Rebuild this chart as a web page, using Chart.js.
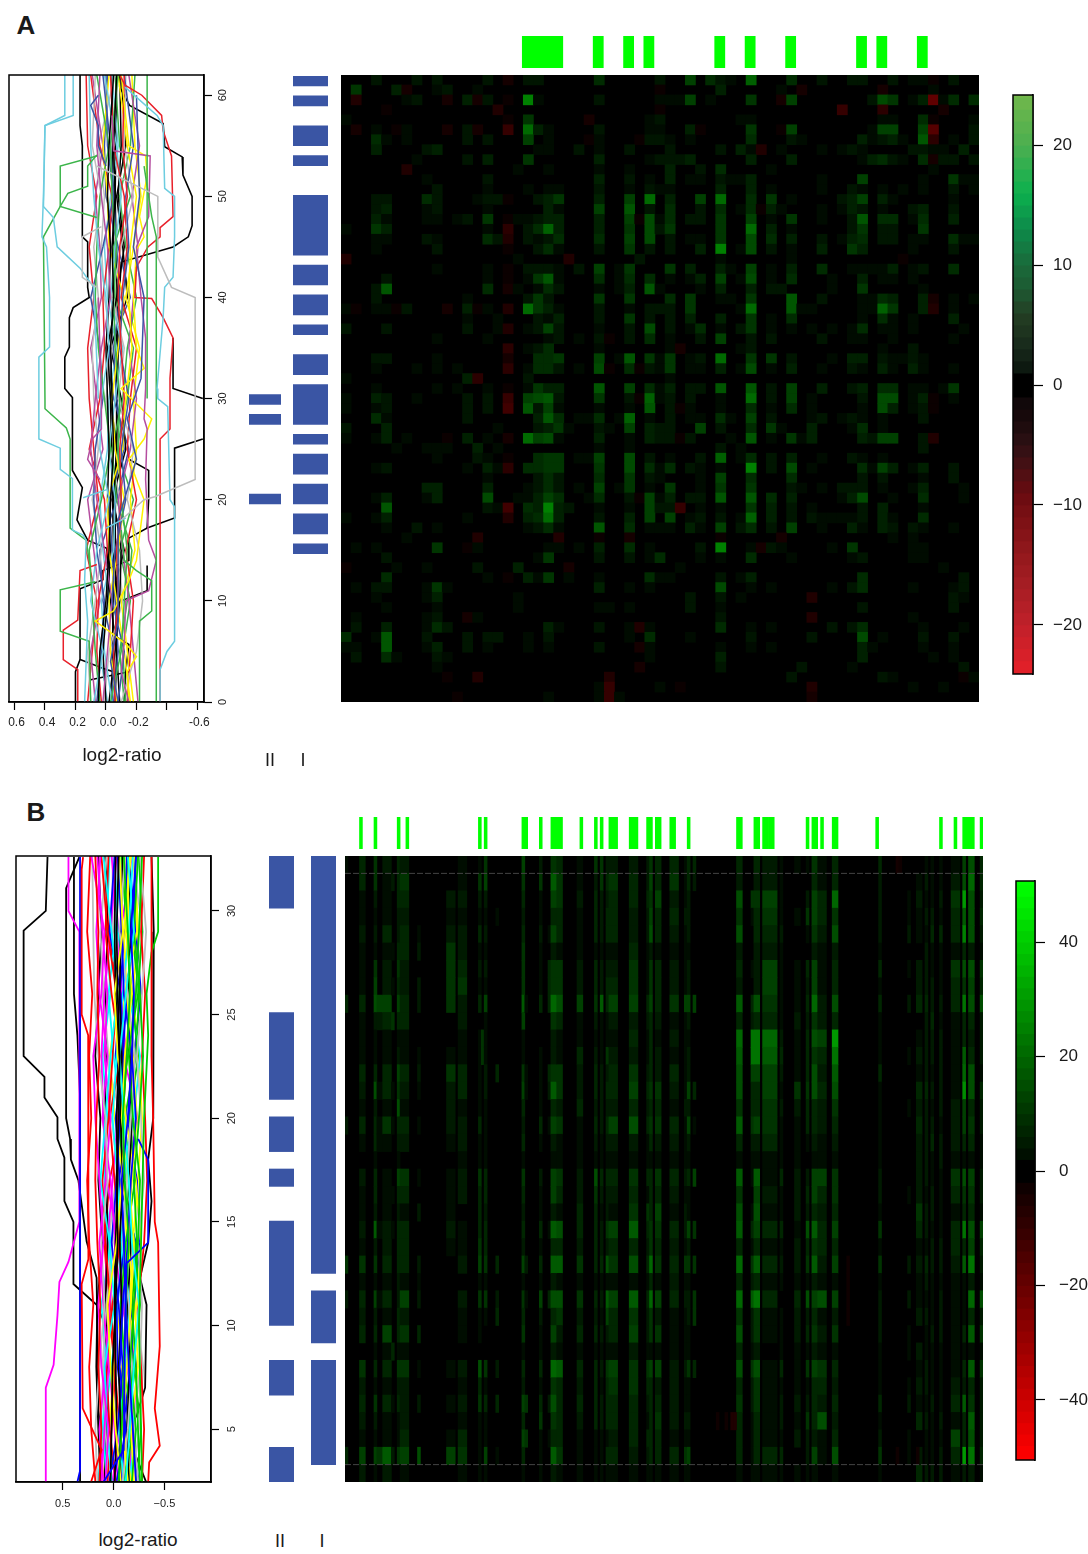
<!DOCTYPE html>
<html>
<head>
<meta charset="utf-8">
<title>log2-ratio heatmaps</title>
<script src="https://cdn.jsdelivr.net/npm/chart.js@4"></script>
<style>
  body { margin: 0; background: #fff; font-family: "Liberation Sans", Arial, sans-serif; color: #1a1a1a; }
  canvas { position: absolute; display: block; }
  .txt { position: absolute; transform: translate(-50%, -50%); white-space: nowrap; }
</style>
</head>
<body>
<script>
// ---- panel A: profile lines ----
const aTicksX = [0.6, 0.4, 0.2, 0, -0.2, -0.4, -0.6];
const aTickLabelsX = ['0.6', '0.4', '0.2', '0.0', '-0.2', '', '-0.6'];
const aTicksY = [0, 10, 20, 30, 40, 50, 60];
const aLineKnots = [0, 5, 10, 15, 20, 25, 30, 35, 40, 45, 50, 55, 62];
// hundredths of log2-ratio, one value per knot
const aBundle = [
  [5, 4, 0, -2, -3, -5, -4, -3, -5, -4, -6, -5, -7],
  [-6, -5, -8, -7, -10, -9, -12, -10, -8, -9, -14, -11, -12],
  [-3, -10, -12, -14, -10, -8, -9, -6, -5, -7, -4, -3, -8],
  [-8, -12, -4, -6, -13, -10, -15, -9, -11, -15, -13, -18, -12],
  [8, 2, 10, 6, -2, 4, 3, -2, 0, 5, 8, 10, 11],
  [2, -1, -4, 1, 6, 10, 7, 3, -3, -1, 3, 6, 4],
  [-16, -12, -7, -2, -1, -11, -13, -17, -15, -16, -20, -14, -8],
  [-10, -20, -24, -22, -14, -18, -8, -12, -4, -10, -18, -12, -13],
  [0, 2, -1, -3, -1, -2, -1, 0, -2, -3, -1, -2, -5],
  [-14, -16, -18, -13, -20, -14, -16, -20, -10, -14, -12, -5, -3],
  [4, 7, 9, 11, 3, -3, 1, 5, 7, 6, 4, -2, 6],
  [6, 3, 1, 6, 8, 7, 2, 4, 10, 2, -5, -3, 2],
  [-4, 1, 3, -5, -6, -2, -6, -11, -3, -6, -10, -7, 1],
  [-21, -18, -15, -11, -8, -16, -20, -15, -18, -21, -17, -22, -15],
  [-7, -3, -2, -8, -12, -6, -4, -8, -12, -2, -1, 2, -2],
  [10, 12, 7, 3, 9, 5, 8, 9, 5, 8, 3, 9, 7],
  [-2, -6, -9, -10, -5, -7, -3, -1, -7, -12, -8, -10, -9],
  [3, 6, 5, -1, 1, 11, 4, 1, 2, -2, -4, 4, 10],
  [-12, -9, -14, -17, -7, -4, -11, -14, -20, -13, -9, -16, -19],
  [-5, -8, -6, -4, -2, -12, -7, -5, -9, -7, -5, -1, 0],
  [-1, 4, -2, 2, 4, -1, -2, -7, -1, 1, -3, -8, -4],
  [7, 10, 4, 8, 12, 2, 6, 10, 3, 4, 7, 2, 9],
  [-18, -14, -10, -19, -16, -20, -18, -22, -13, -18, -23, -19, -17],
  [1, -2, -11, -8, -9, -3, 0, -4, 1, 3, 1, 5, -6],
  [-9, -7, -3, -12, -4, -13, -10, -3, -14, -11, -7, -13, -10],
  [12, 9, 6, 13, 5, 8, 11, 12, 8, 11, 6, 12, 13],
  [-13, -11, -16, -9, -18, -7, -14, -18, -6, -5, -16, -9, -6],
  [-4, -5, 2, 4, -7, -15, -5, -2, -16, -8, 0, 1, -1]
];
// the lines that stand out of the bundle, as [log2-ratio, y] pairs
const aBlack = [
  [[-.09, 62], [-.09, 60.8], [-.155, 59], [-.375, 57.2], [-.385, 54.9], [-.5, 53.9], [-.505, 52.1], [-.565, 50], [-.565, 47.1], [-.54, 46], [-.44, 45], [-.1, 43.5], [-.07, 36], [-.07, 20]],
  [[.17, 62], [.17, 57], [.155, 55], [.155, 46], [.12, 45.5], [.12, 41], [.11, 40], [.215, 39], [.24, 38], [.24, 35.1], [.27, 34.1], [.27, 31], [.22, 30.1], [.22, 22.9], [.155, 21.2], [.19, 18], [.12, 16], [-.005, 15.2], [-.03, 10]],
  [[-.44, 36], [-.44, 31], [-.635, 30]],
  [[-.635, 26], [-.45, 25.1], [-.45, 18.2], [-.27, 17.2], [-.15, 16.2], [-.15, 14], [.02, 13], [.02, 12.1], [.17, 11.2], [.17, 4.2], [-.005, 3.2], [-.05, 3]],
  [[.2, 0], [.2, 3], [.17, 4.2]],
  [[-.15, 3], [.1, 2.2]],
  [[-.15, 24], [-.28, 22.9], [-.28, 20], [-.27, 17.2]],
  [[-.1, 10], [-.27, 11], [-.27, 13.5]],
  [[-.07, 12], [-.07, 8], [-.05, 6.6], [-.15, 5.7], [-.13, 3], [-.12, 0]],
  [[-.04, 62], [-.05, 45], [-.03, 30], [-.05, 15], [-.04, 0]],
  [[-.07, 62], [-.06, 50], [-.08, 35], [-.06, 18], [-.07, 5], [-.06, 0]]
];
const aCyan = [
  [[.27, 62], [.27, 58], [.4, 57], [.41, 50], [.42, 46], [.39, 45], [.37, 40], [.37, 35.1], [.44, 34.1], [.44, 26], [.3, 25.1], [.3, 23], [.22, 22.1], [.22, 17], [.15, 16.5], [.13, 16], [.14, 12], [.12, 8], [.14, 0]],
  [[.215, 62], [.215, 58], [.4, 57], [.41, 49], [.345, 47.9], [.32, 45], [.17, 42.9], [.08, 41], [.05, 30]],
  [[-.125, 60.8], [-.335, 58], [-.375, 57], [-.385, 50.8], [-.45, 50], [-.45, 46], [-.44, 42], [-.385, 41], [-.375, 38], [-.335, 31], [-.34, 30], [-.405, 29.2], [-.42, 20], [-.45, 19.3], [-.45, 6], [-.4, 5], [-.355, 3.2], [-.355, 0]],
  [[.15, 20.2], [-.005, 21]],
  [[-.13, 18.2], [0, 17.2]]
];
const aGreen = [
  [[.06, 54], [.3, 53], [.3, 49], [.06, 47.9]],
  [[.06, 54.1], [.12, 53], [.12, 51], [.25, 50.3], [.3, 49], [.41, 46], [.4, 29.9], [.4, 29], [.26, 27.1], [.235, 26], [.235, 17.2], [.13, 16], [.1, 13]],
  [[.07, 11.9], [.3, 11.1], [.3, 7], [.11, 6], [.1, 0]],
  [[-.27, 62], [-.27, 30]],
  [[-.25, 53], [-.3, 48], [-.33, 46], [-.33, 0]],
  [[-.1, 17], [-.12, 14], [-.2, 13], [-.3, 12], [-.3, 9], [-.22, 8], [-.22, 0]]
];
const aRed = [
  [[-.09, 62], [-.125, 61], [-.235, 60], [-.365, 58], [-.375, 56.5], [-.43, 54], [-.44, 48], [-.355, 46.9], [-.355, 46], [-.275, 45], [-.2, 43], [-.19, 40], [-.3, 39.9], [-.375, 38], [-.44, 36], [-.42, 32], [-.42, 27], [-.355, 26], [-.355, 0]],
  [[.06, 13.6], [.17, 13], [.185, 8.1], [.28, 7.1], [.28, 4.2], [.185, 3.2], [.185, 0]]
];
const aGrey = [
  [[.06, 53], [-.34, 50], [-.34, 44], [-.43, 41], [-.585, 40], [-.585, 22], [-.32, 20.3], [-.25, 20], [-.1, 18]],
  [[.03, 47], [.155, 46], [.155, 42], [.06, 41]]
];
const aPurple = [
  [[-.04, 58], [-.05, 54.5], [-.29, 54], [-.28, 48], [-.2, 45], [-.23, 40], [-.26, 36], [-.26, 31], [-.25, 28], [-.27, 27], [-.26, 22], [-.28, 16], [-.33, 14], [-.28, 11], [-.13, 10], [-.12, 6], [-.1, 3], [-.15, 0]],
  [[.05, 40], [.03, 30], [.03, 27], [.09, 26], [.12, 24], [.04, 22]]
];
const aYellow = [
  [[-.1, 62], [-.15, 55], [-.26, 54], [-.27, 52], [-.22, 48], [-.25, 46], [-.2, 44.7], [-.18, 40], [-.2, 35], [-.25, 33], [-.1, 31], [-.3, 28], [-.25, 26], [-.15, 24], [-.2, 22], [-.25, 20], [-.2, 14], [-.15, 12], [-.05, 9], [.07, 8], [-.02, 7], [-.14, 5.6], [-.2, 4.5], [-.14, 3], [-.15, 0]]
];
const aBlue = [
  [[.05, 60], [.1, 59], [.05, 57], [.05, 55], [0, 53]],
  [[-.2, 60], [-.22, 50], [-.18, 45], [-.25, 40], [-.23, 32], [-.14, 28], [-.2, 24], [-.08, 18], [-.08, 8], [-.03, 4], [-.08, 0]]
];

// ---- panel A: class blocks, marks and heatmap ----
const aBlockII = [[32, 33], [34, 35], [42, 43]];
const aBlockI = [[0, 1], [2, 3], [5, 7], [8, 9], [12, 18], [19, 21], [22, 24], [25, 26], [28, 30], [31, 35], [36, 37], [38, 40], [41, 43], [44, 46], [47, 48]];
const aMarks = [[18, 4], [25, 1], [28, 1], [30, 1], [37, 1], [40, 1], [44, 1], [51, 1], [53, 1], [57, 1]];
// one string per row from the top, "column:value", zero cells left out
const aHeatRows = [
  '3:2 7:2 9:2 14:2 16:-2 18:2 19:2 25:4 31:2 34:6 36:4 37:2 38:1 40:9 44:4 47:2 50:2 51:2 54:2 56:1 57:1 58:-1 60:2',
  '1:5 5:3 6:-2 9:1 10:2 13:1 31:-1 37:3 43:1 45:-2 53:-2 58:1',
  '1:-3 6:1 7:2 10:-2 12:3 13:-2 14:2 16:-1 18:12 19:1 25:2 31:1 32:1 33:1 34:6 36:1 40:5 43:-2 44:6 52:2 53:7 54:5 56:1 57:3 58:-9 59:1 60:4 62:4',
  '4:-1 15:-3 31:-1 49:-5 53:-4 59:-2',
  '0:1 16:-1 18:5 24:-2 30:1 31:2 39:1 40:1 53:1 54:1 57:4 58:-1 62:1',
  '1:-2 3:1 5:-1 6:1 10:-2 12:2 13:-2 16:-5 18:10 19:3 20:1 25:2 30:1 31:1 34:3 35:-1 40:5 43:-1 44:6 52:1 53:6 54:6 57:6 58:-8 62:2',
  '3:4 4:1 6:1 12:2 14:2 18:6 20:1 24:-1 25:1 29:-1 30:2 31:2 32:1 34:1 40:4 44:2 45:1 51:3 52:1 53:2 54:3 55:1 57:8 58:-4 60:1 62:2',
  '3:3 8:2 9:3 19:1 20:1 23:2 25:1 28:2 32:2 37:2 39:3 40:1 41:-3 43:1 47:1 49:1 50:2 51:1 56:2 57:2 58:1 59:1 61:3',
  '7:1 12:2 14:3 18:5 25:3 30:1 31:2 32:2 33:2 34:3 40:3 44:3 51:1 52:3 53:4 54:2 55:1 57:4 58:-2 59:2 60:2 62:2',
  '6:-3 17:1 20:1 25:1 28:1 32:3 35:2 37:4 42:1 58:1',
  '8:1 14:2 25:3 28:2 30:1 32:3 34:1 35:1 37:2 38:1 39:1 40:3 47:1 51:6 57:1 60:5 61:1 62:1',
  '9:2 14:1 18:1 20:1 21:1 25:2 28:1 30:2 31:1 32:1 37:3 40:3 42:1 47:1 50:2 51:1 53:1 55:1 57:1 60:2 62:1',
  '3:2 4:2 8:4 9:2 13:1 14:2 15:2 16:-1 19:2 20:3 21:5 25:3 28:6 30:10 32:3 35:6 37:10 40:4 42:5 44:1 49:2 50:3 51:6 53:3 54:1 60:1',
  '3:2 4:3 8:1 9:2 14:1 20:3 21:1 25:6 28:8 30:2 32:4 35:2 37:4 39:1 40:4 41:-1 42:3 43:1 47:1 49:1 50:3 51:2 53:1 56:2 57:3 60:2',
  '3:3 4:1 8:1 9:1 11:1 12:2 14:5 16:-1 17:1 18:1 19:2 20:3 21:3 25:3 28:6 29:-1 30:7 31:1 32:4 34:2 35:2 37:5 40:6 42:1 44:5 47:1 50:2 51:8 53:4 54:4 56:1 57:4 60:3',
  '0:1 3:5 4:3 14:1 16:-4 18:2 19:4 20:9 21:3 25:3 28:5 30:7 31:2 32:5 37:5 40:10 42:3 44:1 50:2 51:5 53:2 54:2 57:5',
  '3:1 4:1 8:2 9:1 14:4 15:2 16:-3 18:2 19:1 20:2 21:4 25:4 28:6 30:7 32:2 34:1 35:1 37:5 40:7 42:4 44:3 47:2 49:1 50:3 51:4 53:2 54:2 56:1 57:1 60:4 61:1 62:1',
  '3:1 9:2 16:-1 19:2 20:4 21:1 25:2 28:5 30:2 32:2 35:3 37:12 39:1 40:7 42:2 44:1 47:3 50:5 51:3 56:1 60:2',
  '0:-3 17:1 22:-3 29:2 37:1 44:1 55:-1',
  '9:1 14:1 16:-1 18:2 19:2 20:2 21:1 23:2 25:6 27:1 28:5 32:5 34:3 37:3 38:1 40:6 42:1 44:3 47:4 50:1 51:1 52:1 53:1 54:3 56:1 57:2 60:4',
  '4:2 14:1 16:-1 18:1 19:5 20:8 21:1 25:4 27:1 28:4 30:4 32:1 34:1 35:3 37:6 39:1 40:7 42:1 44:4 48:1 51:3 53:1 54:1 56:1',
  '3:2 4:8 14:4 16:-2 17:1 19:1 20:4 21:2 25:1 27:1 28:3 30:8 31:1 35:1 37:3 40:3 42:2 43:2 48:1 51:5 57:1',
  '3:2 12:1 18:2 19:5 20:2 25:5 28:5 32:4 34:5 37:1 38:1 40:5 44:8 47:2 51:1 52:1 53:4 54:3 57:3 58:-2 60:1 62:1',
  '0:1 1:-1 3:1 4:1 5:-1 6:2 10:-2 12:3 13:-1 14:1 16:-3 18:10 19:5 20:3 21:1 25:2 28:1 30:2 31:2 32:2 34:5 39:1 40:10 44:8 45:1 46:1 51:1 52:1 53:9 54:5 57:3 58:-3 60:1',
  '12:1 15:1 19:2 20:1 21:3 25:2 28:5 30:2 32:2 34:3 37:3 40:5 42:1 44:4 51:1 53:4 54:1 56:1 60:3',
  '0:2 4:2 12:2 15:1 16:-3 18:1 19:2 20:6 21:2 25:1 28:2 30:7 32:2 34:1 35:4 37:1 39:2 40:5 42:1 44:1 46:1 48:1 50:1 51:4 53:1 54:1 56:1 61:1',
  '9:1 14:1 20:1 21:2 23:1 25:2 26:-1 28:2 30:4 32:1 35:2 37:6 40:2 42:2 47:2 50:1 51:1 54:1 60:1',
  '16:-4 18:1 19:2 20:4 25:1 32:1 33:-2 39:1 40:2 53:1 56:2',
  '3:2 4:2 9:1 16:-2 19:4 20:4 21:5 25:6 27:1 28:8 30:5 31:1 32:5 34:1 35:2 37:10 40:5 42:5 44:2 48:1 50:3 51:3 53:2 54:1 55:1 56:2 57:1',
  '3:1 7:1 9:1 11:1 16:-4 18:1 19:4 20:4 21:2 23:1 25:7 26:-1 28:4 29:-1 30:2 31:1 32:5 34:1 35:1 37:3 39:1 40:7 42:1 44:3 47:1 50:2 51:1 53:3 54:1 56:3 57:1 60:1',
  '0:1 12:3 13:-4 18:2 32:1',
  '3:1 9:1 11:1 14:1 16:-1 18:1 19:5 20:3 21:3 25:8 28:6 30:4 31:1 32:3 34:2 35:2 37:8 40:8 42:2 44:6 47:3 50:2 51:3 53:4 54:4 56:1 57:1 59:1 60:5',
  '0:1 3:3 4:2 7:1 12:2 14:2 16:-5 18:6 19:7 20:8 21:2 25:5 28:2 29:-1 30:9 31:1 32:2 34:2 37:1 40:10 42:2 44:6 46:1 51:2 53:7 54:7 56:1 57:3 58:-1 60:1',
  '0:1 3:1 4:2 12:2 14:2 16:-6 18:8 19:2 20:6 21:1 25:1 28:1 30:8 32:2 33:-1 34:1 37:1 40:4 42:1 44:4 46:1 51:1 53:7 54:3 56:1 57:2 58:-1',
  '3:4 4:1 12:2 19:3 20:8 21:4 23:1 24:1 25:4 27:1 28:9 30:1 32:2 34:1 35:1 37:4 38:1 40:6 42:2 46:1 47:2 49:1 50:2 51:1 53:1 57:2',
  '0:2 4:3 15:1 19:2 20:3 21:5 22:1 25:2 26:1 28:6 30:3 31:2 32:2 35:6 37:2 40:4 42:5 43:1 46:3 50:1 51:4 53:1',
  '0:1 3:1 4:3 6:1 10:-1 12:3 14:1 16:-2 18:10 19:6 20:7 21:1 25:3 28:1 30:3 31:2 32:2 33:-1 34:2 38:1 40:8 42:1 44:5 45:1 46:3 51:3 52:2 53:6 54:6 57:2 58:-3',
  '5:1 8:1 9:1 10:1 13:3 15:1 25:1 28:1 37:2 39:1 57:2',
  '9:1 13:2 14:1 16:-1 19:4 20:5 21:5 23:1 24:1 25:6 28:7 30:2 32:1 35:2 37:9 39:1 40:4 42:2 44:3 47:1 50:2 51:1 53:1',
  '3:1 4:2 12:1 14:3 15:1 16:-4 18:4 19:4 20:5 21:5 25:5 28:7 30:4 31:1 32:4 34:2 35:1 37:1 40:12 42:2 44:7 46:1 51:4 52:1 53:6 54:3 56:1 57:3 60:2',
  '14:1 19:2 20:4 21:2 25:4 28:5 30:2 31:1 35:1 37:6 40:4 44:4 51:2 53:2 57:1 60:2',
  '8:3 9:3 14:3 18:1 19:2 20:4 21:2 23:1 25:6 27:1 28:5 30:1 32:5 35:1 37:5 40:5 44:2 45:1 47:1 49:2 50:2 51:2 53:1 56:1 57:3 61:1',
  '3:1 4:3 8:1 9:3 14:7 17:1 18:1 19:3 20:6 21:4 24:1 25:4 28:2 29:-1 30:6 31:1 32:3 34:2 35:2 37:8 40:8 42:4 44:3 49:1 50:3 51:7 54:1 57:4 61:1',
  '4:8 14:2 15:1 16:-6 18:4 19:3 20:12 21:3 22:2 25:1 28:1 30:6 31:2 32:2 33:-5 35:1 37:1 40:5 42:3 44:2 46:1 51:2 53:3 57:1',
  '0:1 3:1 4:3 12:1 16:-3 18:3 19:4 20:10 21:3 25:2 28:3 30:6 32:6 34:1 35:2 37:2 39:1 40:9 42:3 44:2 46:2 47:1 48:1 49:1 50:1 51:2 53:3 54:1 57:4',
  '4:1 7:2 9:1 18:1 19:2 20:4 21:1 25:8 28:4 30:1 31:1 32:1 34:3 35:1 37:6 39:2 40:4 42:2 44:6 47:1 50:3 51:1 53:3 54:2 56:2 57:1 60:1',
  '6:1 13:-3 21:-3 25:-1 28:-2 37:-1 43:-2 54:1 56:1',
  '1:1 3:1 9:5 12:-1 13:1 20:1 21:1 23:1 25:3 28:4 30:1 35:2 37:12 40:1 41:-2 42:2 43:1 48:1 50:5 56:1 57:1',
  '4:2 19:1 20:5 25:2 28:2 30:1 31:4 35:1 37:1 40:4 44:1 50:1 51:2 56:1 57:1',
  '0:-1 5:1 8:1 13:2 17:3 22:-2 33:1 59:1',
  '4:4 14:1 16:-1 18:3 19:1 20:5 22:1 25:1 30:4 31:1 32:1 37:2 39:1 40:3 51:4 61:2',
  '1:1 3:2 4:2 8:1 9:5 10:1 25:3 28:1 30:1 37:7 40:1 42:1 48:1 50:2 51:4 56:1 60:1 61:2',
  '3:1 8:1 9:3 17:1 34:2 37:2 39:1 46:-3 60:2 61:1',
  '4:1 9:1 17:1 25:1 26:1 28:1 34:2 37:1 51:2 60:2',
  '1:1 8:1 9:2 12:-2 13:1 37:2 46:-3 56:1',
  '1:2 4:3 8:1 9:4 10:2 20:3 21:1 25:2 28:1 29:-3 30:1 37:4 40:1 42:1 48:2 50:2 51:4 57:1 61:1',
  '0:4 3:1 4:8 8:2 12:2 14:2 15:2 18:1 20:2 28:1 30:4 34:1 40:2 46:2 51:7 53:1 57:2 60:2',
  '0:1 1:1 4:8 8:1 9:3 12:2 14:1 18:1 20:1 25:2 29:-2 30:1 37:1 40:1 42:1 51:3 52:1 57:1 60:1',
  '1:2 4:4 5:1 9:2 10:1 30:1 37:3 51:3 58:1 60:1',
  '9:1 29:-2 37:2 45:2 50:1 61:2',
  '10:-1 13:-3 26:-3 44:2 53:2 54:1 61:-1 62:1',
  '25:1 26:-5 31:1 33:-1 46:-3 56:1 59:1',
  '11:-1 20:1 25:1 26:-5 27:1 46:-2'
];

// ---- colour bar levels ----
const aBarTicks = [20, 10, 0, -10, -20];
const aBarLevels = [-25, -24, -23, -22, -21, -20, -19, -18, -17, -16, -15, -14, -13, -12, -11, -10, -9, -8, -7, -6, -5, -4, -3, -2, -1, 0, 1, 2, 3, 4, 5, 6, 7, 8, 9, 10, 11, 12, 13, 14, 15, 16, 17, 18, 19, 20, 21, 22, 23, 24];
const aBarStops = [[-25, [238, 32, 40]], [-20, [192, 32, 42]], [-17, [168, 30, 36]], [-14, [146, 24, 28]], [-11, [122, 16, 20]], [-9, [104, 10, 16]], [-7, [74, 16, 20]], [-5, [46, 16, 20]], [-3, [26, 10, 12]], [-1, [14, 7, 9]], [-.6, [0, 0, 0]], [.6, [0, 0, 0]], [1, [10, 20, 12]], [3, [23, 40, 26]], [6, [36, 63, 36]], [8, [29, 90, 50]], [10, [26, 106, 58]], [13, [13, 138, 74]], [16, [12, 176, 78]], [20, [76, 175, 80]], [25, [120, 185, 74]]];

const bBarTicks = [40, 20, 0, -20, -40];
const bBarLevels = [-52, -50, -48, -46, -44, -42, -40, -38, -36, -34, -32, -30, -28, -26, -24, -22, -20, -18, -16, -14, -12, -10, -8, -6, -4, -2, 0, 2, 4, 6, 8, 10, 12, 14, 16, 18, 20, 22, 24, 26, 28, 30, 32, 34, 36, 38, 40, 42, 44, 46, 48, 50];

// ---- panel B: profile lines ----
const bTicksX = [0.5, 0, -0.5];
const bTickLabelsX = ['0.5', '0.0', '\u22120.5'];
const bTicksY = [5, 10, 15, 20, 25, 30];
const bLineKnots = [2.5, 5, 8, 11, 14, 17, 20, 23, 26, 29, 32.65];
const bBundle = [
  [3, 2, 1, -2, -4, -3, -5, -6, -4, -3, -5],
  [14, 12, 15, 13, 16, 18, 17, 14, 16, 15, 18],
  [-5, -8, -10, -12, -15, -11, -9, -13, -16, -14, -10],
  [-22, -19, -15, -12, -10, -8, -14, -18, -20, -17, -22],
  [-12, -16, -20, -25, -18, -15, -10, -6, -12, -20, -14],
  [8, 5, 12, 15, 10, 14, 18, 20, 12, 9, 22],
  [-7, -2, 3, 6, -3, -8, -12, -4, -1, -9, -6],
  [16, 18, 14, 9, 12, 6, 8, 15, 19, 20, 21],
  [-1, -3, -2, -1, -2, -4, -3, -5, -2, -1, -2],
  [18, 22, 24, 20, 24, 26, 22, 24, 21, 26, 23],
  [-18, -22, -16, -20, -24, -26, -19, -15, -22, -25, -28],
  [-3, -12, -6, -9, -14, -17, -22, -18, -10, -8, -4],
  [2, 6, 9, -1, 4, 13, 8, 3, -4, 2, 10],
  [10, 14, 8, 4, -2, 3, 11, 6, 14, 17, 13],
  [-14, -9, -13, -17, -20, -15, -8, -11, -18, -12, -16],
  [-9, -14, -18, -15, -9, -13, -17, -21, -14, -6, -11],
  [-6, -7, -5, -8, -6, -9, -7, -8, -6, -7, -9],
  [6, 2, -2, 3, 8, 11, 5, 1, -3, 6, 12],
  [-26, -24, -22, -18, -23, -20, -25, -29, -26, -20, -24],
  [4, -4, -9, -5, 2, -3, -6, -10, -7, 4, -1],
  [-10, -5, -12, -16, -8, -4, 1, -3, -9, -15, -19],
  [12, 9, 5, 10, 14, 8, 3, 9, 6, 11, 16],
  [-20, -17, -24, -21, -14, -18, -23, -19, -13, -10, -17],
  [-24, -20, -26, -28, -24, -30, -27, -23, -28, -32, -26],
  [-15, -13, -16, -14, -17, -15, -18, -16, -14, -17, -15],
  [-2, 4, 7, 1, -6, -1, 4, -7, 2, 8, 5],
  [-13, -18, -11, -7, -12, -21, -16, -24, -18, -13, -8],
  [-8, -11, -4, -3, -11, -6, -2, -9, -13, -19, -22],
  [7, 10, 2, -4, -9, -13, -8, 0, 5, -2, -7],
  [1, -6, -14, -10, -5, 7, 10, 12, 9, 3, -3],
  [-17, -10, -8, -23, -27, -22, -12, -7, -11, -23, -20],
  [5, 8, 11, 7, 1, -5, 2, 5, 10, 13, 7],
  [9, 7, 6, 8, 6, 7, 9, 7, 8, 6, 8],
  [-28, -30, -27, -24, -30, -33, -31, -28, -31, -27, -30],
  [-11, -15, -19, -26, -21, -10, -5, -14, -24, -28, -25],
  [0, -9, -17, -20, -26, -23, -13, -2, -6, -11, -13],
  [-16, -21, -14, -11, -3, -7, -20, -26, -15, -4, -1],
  [-4, -1, 4, 9, 6, 1, -4, -12, -8, -5, 2],
  [11, 4, 0, -7, -13, -10, -1, 4, -5, -16, -12],
  [-19, -25, -29, -22, -16, -12, -21, -17, -21, -29, -18],
  [13, 15, 17, 16, 11, 15, 13, 18, 15, 12, 15],
  [-10, -6, -1, 5, 9, 4, -9, -13, -4, 5, 9],
  [-23, -27, -20, -13, -7, -16, -11, -22, -25, -18, -13],
  [-25, -15, -9, -19, -22, -5, -15, -20, -27, -22, -15],
  [15, 11, 7, 12, 3, 9, 6, 11, 3, 7, 4],
  [-15, -19, -23, -8, -1, -11, -24, -10, -2, -7, -18],
  [-6, -13, -21, -16, -19, -24, -28, -25, -19, -24, -21],
  [6, 13, 10, 2, 5, -2, -7, 7, 11, 1, 1]
];
const bBlack = [
  [[.65, 32.6], [.667, 30], [.885, 29.05], [.885, 23], [.68, 22], [.68, 21], [.552, 20.05], [.552, 19], [.484, 18.1], [.484, 16], [.395, 15], [.395, 12], [.167, 11], [.085, 10.1], [.05, 5], [.08, 2.45]],
  [[.337, 32.6], [.467, 31.1], [.467, 20], [.428, 19], [.42, 18], [.346, 17], [.265, 14.05], [.167, 12.3], [.15, 5.9], [.118, 4.6], [.118, 2.45]],
  [[.39, 32.6], [.39, 26], [.356, 24], [.33, 21], [.33, 2.45]],
  [[-.373, 32.6], [-.395, 29], [-.39, 20], [-.34, 18], [-.373, 16], [-.34, 14], [-.26, 12.3], [-.324, 11], [-.31, 7], [-.23, 5.7], [-.13, 4.8], [-.32, 2.45]]
];
const bMagenta = [
  [[.444, 32.6], [.444, 30], [.337, 29], [.337, 15], [.444, 13.07], [.533, 12.1], [.552, 10.5], [.59, 8.1], [.667, 7], [.667, 2.45]]
];
const bBlue = [
  [[.33, 32.6], [.33, 3], [.356, 2.45]],
  [[-.242, 19], [-.34, 18], [-.34, 14], [-.127, 13], [-.11, 9], [-.1, 4], [.1, 2.45]]
];
const bRed = [
  [[.3, 32.6], [.314, 32], [.314, 25], [.25, 24], [.248, 13.2], [.314, 12], [.304, 6], [.118, 4], [.222, 2.45]],
  [[-.373, 32.6], [-.373, 23], [-.389, 20], [-.405, 15], [-.438, 14], [-.454, 9], [-.405, 6], [-.454, 4.2], [-.35, 3.4], [-.34, 2.45]]
];
const bGreen = [
  [[-.438, 32.6], [-.438, 29], [-.373, 28], [-.324, 26], [-.34, 24], [-.3, 20], [-.25, 10], [-.28, 2.45]]
];

// ---- panel B: class blocks, marks and heatmap ----
const bBlockII = [[0, 3], [9, 14], [15, 17], [18, 19], [21, 27], [29, 31], [34, 36]];
const bBlockI = [[0, 24], [25, 28], [29, 35]];
const bMarks = [[5, 1], [10, 1], [18, 1], [21, 1], [46, 1], [48, 1], [61, 2], [67, 1], [71, 4], [81, 1], [86, 1], [88, 1], [91, 3], [98, 3], [104, 2], [107, 2], [112, 2], [118, 1], [135, 2], [141, 2], [144, 2], [146, 2], [159, 1], [161, 2], [164, 1], [168, 2], [183, 1], [205, 1], [210, 1], [213, 4], [219, 1]];
// the columns run in bands, so: first column, last column + 1, then one
// hex level per row from the top (level 1 = 2.5 units on the colour bar)
const bHeatBands = [
  [0, 1, '100000 003000 000200 000004 020000 000030'],
  [5, 7, '331121 113111 321310 211214 132304 232152'],
  [10, 11, '442121 456211 362331 332724 152313 142151'],
  [11, 13, '000000 005200 010110 000100 010000 000040'],
  [13, 16, '211131 225311 331410 111223 131513 131172'],
  [16, 17, '020001 010400 010100 010100 000030 010020'],
  [18, 19, '333223 435312 546321 532333 223314 231140'],
  [19, 22, '243233 223311 321320 431333 152414 222351'],
  [25, 26, '000012 022001 210100 102002 120301 020060'],
  [35, 38, '002124 444001 422210 111210 000001 010150'],
  [39, 42, '112122 342211 331221 220112 021102 121341'],
  [46, 47, '142131 213011 111311 433345 141106 341111'],
  [47, 48, '000000 000044 000000 000000 000000 000000'],
  [48, 49, '452121 215111 221111 332334 141004 131151'],
  [52, 53, '000100 000000 300000 000003 023002 030010'],
  [61, 62, '543234 447511 453231 432325 143413 253531'],
  [62, 63, '000000 001000 110000 000002 010000 040400'],
  [67, 68, '241121 113001 111310 211313 152113 134111'],
  [70, 71, '000010 333000 320100 000100 030000 020100'],
  [71, 73, '475352 448422 473521 552737 263528 464372'],
  [73, 75, '344331 446311 442411 431637 164217 333341'],
  [80, 82, '112111 225113 223111 223324 142313 232111'],
  [86, 87, '423331 334212 332321 643333 132313 333111'],
  [88, 89, '442221 227111 222211 321223 121212 122111'],
  [90, 91, '232331 233114 232321 322426 175214 333131'],
  [91, 94, '243331 235212 332521 321534 153315 433231'],
  [98, 101, '233223 445232 453621 434736 174524 433321'],
  [104, 105, '223221 113211 232311 314323 132214 321321'],
  [105, 106, '454562 445333 343431 333448 384415 333331'],
  [107, 109, '335331 333212 243421 435434 152415 234331'],
  [112, 115, '342321 224121 321321 321323 231112 222131'],
  [117, 118, '111211 115111 112111 212214 121112 112141'],
  [118, 119, '332221 225212 252521 311524 122114 112151'],
  [120, 121, '320000 005000 030100 500404 044003 000000'],
  [135, 137, '326462 327387 664731 746738 384636 343331'],
  [140, 141, '004100 103299 533421 101314 272214 221111'],
  [141, 143, '324332 226399 533521 756537 394426 443331'],
  [144, 149, '225432 554387 554431 121313 131101 111131'],
  [150, 151, '111121 111123 212111 311312 101113 122131'],
  [155, 157, '100100 111211 142111 222122 132211 121201'],
  [159, 160, '102410 323233 343310 232634 162314 124221'],
  [161, 163, '435542 558464 663321 553747 253425 333251'],
  [163, 166, '113321 112253 232211 532332 161214 326110'],
  [168, 170, '338462 3363c9 764321 443535 152413 232361'],
  [184, 185, '322221 313111 311111 221414 122211 131241'],
  [194, 195, '001120 102001 001000 010002 020110 120110'],
  [197, 199, '012110 223012 132322 224312 112021 213023'],
  [200, 201, '121212 223222 232222 212213 212112 212112'],
  [202, 203, '111231 122322 121231 122122 111211 121112'],
  [205, 206, '112131 112122 222122 111122 122211 112122'],
  [209, 212, '124331 433111 112221 431332 111111 231531'],
  [213, 214, '56c7a3 649337 8b5531 643937 111313 2733c2'],
  [215, 217, '686662 656323 663431 543659 283717 347692'],
  [219, 220, '332321 436222 132211 221532 162414 222231']
];
// [row, column, value] for the few cells that go red
const bRedCells = [[0, 190, -4], [0, 191, -3], [32, 133, -6], [32, 134, -6], [32, 131, -3], [32, 128, -3], [23, 173, -3], [24, 173, -3], [25, 173, -3], [26, 173, -3], [34, 190, -3], [34, 197, -3]];
const bDashRows = [1, 35];

// ---- drawing ----
Chart.defaults.animation = false;
Chart.defaults.responsive = false;
Chart.defaults.font.family = '"Liberation Sans", Arial, sans-serif';
Chart.defaults.plugins.legend.display = false;
Chart.defaults.plugins.tooltip.enabled = false;

const blockBlue = '#3a55a4';
const markGreen = '#00ff00';
const aLineColors = ['#000000', '#e8202a', '#3cb54a', '#3b54a4', '#6dcde0', '#b54ea0', '#fff200', '#bdbdbd'];
const bLineColors = ['#000000', '#ff0000', '#00cd00', '#0000ff', '#00ffff', '#ff00ff', '#ffff00', '#bebebe'];

function addCanvas(left, top, width, height) {
  const c = document.createElement('canvas');
  c.width = width;
  c.height = height;
  c.style.left = left + 'px';
  c.style.top = top + 'px';
  c.style.width = width + 'px';
  c.style.height = height + 'px';
  document.body.appendChild(c);
  return c;
}

function addText(x, y, text, size, weight) {
  const d = document.createElement('div');
  d.className = 'txt';
  d.style.left = x + 'px';
  d.style.top = y + 'px';
  d.style.fontSize = size + 'px';
  if (weight) d.style.fontWeight = weight;
  d.textContent = text;
  document.body.appendChild(d);
}

// R style box round the plot area
const framePlugin = {
  id: 'frame',
  afterDatasetsDraw(chart, args, opts) {
    const a = chart.chartArea, ctx = chart.ctx;
    ctx.save();
    ctx.strokeStyle = '#000';
    ctx.lineWidth = opts.width || 1.5;
    ctx.strokeRect(a.left, a.top, a.right - a.left, a.bottom - a.top);
    ctx.restore();
  }
};

function fixSize(prop, size) {
  return scale => {
    scale[prop] = size;
    scale.paddingLeft = scale.paddingRight = scale.paddingTop = scale.paddingBottom = 0;
  };
}

function setTicks(values) {
  return scale => { scale.ticks = values.map(v => ({ value: v })); };
}

function mergeLines(knots, bundle) {
  return bundle.map(vals => vals.map((v, i) => [v / 100, knots[i]]));
}

function lineSet(points, color, width) {
  return {
    data: points.map(p => ({ x: p[0], y: p[1] })),
    showLine: true, borderColor: color, borderWidth: width,
    pointRadius: 0, tension: 0, fill: false
  };
}

function lineChart(box, xr, yr, ticksX, labelsX, ticksY, sets, axis) {
  const yw = 50, xh = 44;
  const c = addCanvas(box.left - 2, box.top - 2, box.width + 2 + yw, box.height + 2 + xh);
  new Chart(c, {
    type: 'scatter',
    data: { datasets: sets },
    options: {
      layout: { padding: { left: 2, top: 2 } },
      scales: {
        x: {
          type: 'linear', reverse: true, min: xr[1], max: xr[0],
          grid: { drawOnChartArea: false, color: '#000', tickLength: 8, tickWidth: 1.2 },
          border: { color: '#000', width: 1.5 },
          afterBuildTicks: setTicks(ticksX),
          afterFit: fixSize('height', xh),
          ticks: {
            font: { size: axis.xFont }, color: '#222', padding: axis.xPad, labelOffset: axis.xShift,
            maxRotation: 0, autoSkip: false,
            callback: (v) => labelsX[ticksX.indexOf(v)]
          }
        },
        y: {
          type: 'linear', position: 'right', min: yr[0], max: yr[1],
          grid: { drawOnChartArea: false, color: '#000', tickLength: 8, tickWidth: 1.2 },
          border: { color: '#000', width: 1.5 },
          afterBuildTicks: setTicks(ticksY),
          afterFit: fixSize('width', yw),
          ticks: {
            font: { size: 11 }, color: '#222', padding: axis.yPad, minRotation: 90, maxRotation: 90,
            crossAlign: 'center', autoSkip: false
          }
        }
      }
    },
    plugins: [framePlugin]
  });
}

function heatColor(v, top) {
  const level = Math.min(255, Math.round(Math.abs(v) / top * 255));
  return v >= 0 ? 'rgb(0,' + level + ',0)' : 'rgb(' + level + ',0,0)';
}

function heatChart(box, nCols, nRows, cells, top, extraSets) {
  const c = addCanvas(box.left, box.top, box.width, box.height);
  c.style.background = '#000';
  new Chart(c, {
    type: 'bar',
    data: {
      datasets: [{
        data: cells, grouped: false, barPercentage: 1, categoryPercentage: 1,
        backgroundColor: ctx => heatColor(ctx.raw.v, top), order: 1
      }].concat(extraSets || [])
    },
    options: {
      indexAxis: 'y',
      scales: {
        x: { type: 'linear', min: 0, max: nCols, display: false, offset: false },
        y: { type: 'linear', min: 0, max: nRows, reverse: true, display: false, offset: false }
      }
    }
  });
}

// green marks over a heatmap, in the heatmap's column units
function markChart(box, nCols, marks) {
  const c = addCanvas(box.left, box.top, box.width, box.height);
  new Chart(c, {
    type: 'bar',
    data: {
      labels: ['mark'],
      datasets: [{
        data: marks.map(m => ({ y: 'mark', x: [m[0], m[0] + m[1]] })),
        backgroundColor: markGreen, grouped: false, barPercentage: 1, categoryPercentage: 1
      }]
    },
    options: {
      indexAxis: 'y',
      scales: {
        x: { type: 'linear', min: 0, max: nCols, display: false, offset: false },
        y: { type: 'category', display: false }
      }
    }
  });
}

// blue class blocks, one column of them per canvas
function blockChart(box, nRows, name, blocks) {
  const c = addCanvas(box.left, box.top, box.width, box.height);
  new Chart(c, {
    type: 'bar',
    data: {
      labels: [name],
      datasets: [{
        data: blocks.map(b => ({ x: name, y: [b[0], b[1]] })),
        backgroundColor: blockBlue, grouped: false, barPercentage: 1, categoryPercentage: 1
      }]
    },
    options: {
      scales: {
        x: { type: 'category', display: false },
        y: { type: 'linear', min: 0, max: nRows, reverse: true, display: false }
      }
    }
  });
}

function colorBar(box, levels, step, range, ticks, pad, colorOf) {
  const axisW = 74;
  const c = addCanvas(box.left - 2, box.top - 2, box.width + 2 + axisW, box.height + 4);
  new Chart(c, {
    type: 'bar',
    data: {
      labels: ['scale'],
      datasets: [{
        // a touch of overlap so no seam shows between two black steps
        data: levels.map(v => ({ x: 'scale', y: [v, v + step * 1.1] })),
        backgroundColor: ctx => colorOf(levels[ctx.dataIndex] + step / 2),
        grouped: false, barPercentage: 1, categoryPercentage: 1
      }]
    },
    options: {
      layout: { padding: { left: 2, top: 2, bottom: 2 } },
      scales: {
        x: { type: 'category', display: false },
        y: {
          type: 'linear', position: 'right', min: range[0], max: range[1],
          grid: { drawOnChartArea: false, color: '#000', tickLength: 10, tickWidth: 1.2 },
          border: { color: '#000', width: 1.5 },
          afterBuildTicks: setTicks(ticks),
          afterFit: fixSize('width', axisW),
          ticks: {
            font: { size: 17 }, color: '#1a1a1a', padding: pad, autoSkip: false,
            callback: v => String(v).replace('-', '\u2212')
          }
        }
      }
    },
    plugins: [framePlugin]
  });
}

function rampColor(v, stops) {
  for (let i = 1; i < stops.length; i++) {
    if (v <= stops[i][0]) {
      const a = stops[i - 1], b = stops[i], t = (v - a[0]) / (b[0] - a[0]);
      const ch = k => Math.round(a[1][k] + (b[1][k] - a[1][k]) * Math.max(0, t));
      return 'rgb(' + ch(0) + ',' + ch(1) + ',' + ch(2) + ')';
    }
  }
  return 'rgb(' + stops[stops.length - 1][1].join(',') + ')';
}

// ---- panel A ----
const aSets = [];
[[aGrey, 7], [aCyan, 4], [aGreen, 2], [aBlue, 3], [aPurple, 5], [aRed, 1], [aYellow, 6]].forEach(g => {
  g[0].forEach(l => aSets.push(lineSet(l, aLineColors[g[1]], 1.5)));
});
mergeLines(aLineKnots, aBundle).forEach((l, i) => aSets.push(lineSet(l, aLineColors[i % 8], 1.5)));
aBlack.forEach(l => aSets.push(lineSet(l, aLineColors[0], 1.6)));
lineChart({ left: 9, top: 75, width: 195, height: 627 }, [0.636, -0.643], [0, 62], aTicksX, aTickLabelsX, aTicksY, aSets,
  { xFont: 12, xPad: 5, xShift: 2, yPad: 5 });

blockChart({ left: 249, top: 76, width: 32, height: 627 }, 63, 'II', aBlockII);
blockChart({ left: 293, top: 76, width: 35, height: 627 }, 63, 'I', aBlockI);
markChart({ left: 340, top: 36, width: 638, height: 32 }, 63, aMarks);

const aCells = [];
aHeatRows.forEach((row, r) => {
  row.split(' ').forEach(item => {
    const p = item.split(':').map(Number);
    aCells.push({ y: r + 0.5, x: [p[0], p[0] + 1], v: p[1] });
  });
});
heatChart({ left: 341, top: 75, width: 638, height: 627 }, 63, 63, aCells, 24);
colorBar({ left: 1013, top: 95, width: 20, height: 579 }, aBarLevels, 1, [-24.1, 24.2], aBarTicks, 10, v => rampColor(v, aBarStops));

// ---- panel B ----
const bSets = [];
[[bRed, 1], [bGreen, 2], [bBlue, 3], [bMagenta, 5]].forEach(g => {
  g[0].forEach(l => bSets.push(lineSet(l, bLineColors[g[1]], 1.8)));
});
mergeLines(bLineKnots, bBundle).forEach((l, i) => bSets.push(lineSet(l, bLineColors[i % 8], 1.8)));
bBlack.forEach(l => bSets.push(lineSet(l, bLineColors[0], 1.8)));
lineChart({ left: 16, top: 856, width: 195, height: 626 }, [0.96, -0.958], [2.45, 32.65], bTicksX, bTickLabelsX, bTicksY, bSets,
  { xFont: 11, xPad: 7, xShift: 0, yPad: 7 });

blockChart({ left: 269, top: 856, width: 25, height: 626 }, 36, 'II', bBlockII);
blockChart({ left: 311, top: 856, width: 25, height: 626 }, 36, 'I', bBlockI);
markChart({ left: 345, top: 817, width: 638, height: 32 }, 220, bMarks);

const bCells = [];
bHeatBands.forEach(band => {
  const levels = band[2].replace(/ /g, '');
  for (let r = 0; r < levels.length; r++) {
    const lv = parseInt(levels[r], 16);
    if (lv > 0) bCells.push({ y: r + 0.5, x: [band[0], band[1]], v: lv * 2.5 });
  }
});
bRedCells.forEach(d => bCells.push({ y: d[0] + 0.5, x: [d[1], d[1] + 1], v: d[2] }));
const bDashes = bDashRows.map(r => ({
  type: 'scatter', showLine: true, order: 0, indexAxis: 'x',
  data: [{ x: 0, y: r }, { x: 220, y: r }],
  borderColor: '#444', borderWidth: 1, borderDash: [6, 2], pointRadius: 0
}));
heatChart({ left: 345, top: 856, width: 638, height: 626 }, 220, 36, bCells, 50, bDashes);
colorBar({ left: 1016, top: 881, width: 19, height: 579 }, bBarLevels, 2, [-50.5, 50.7], bBarTicks, 14, v => heatColor(Math.abs(v) < 1.5 ? 0 : v, 50));

// ---- text ----
addText(26, 25, 'A', 26, 'bold');
addText(36, 812, 'B', 26, 'bold');
addText(122, 755, 'log2-ratio', 19);
addText(270, 760, 'II', 18);
addText(303, 760, 'I', 18);
addText(138, 1540, 'log2-ratio', 19);
addText(280, 1541, 'II', 18);
addText(322, 1541, 'I', 18);
</script>
</body>
</html>
